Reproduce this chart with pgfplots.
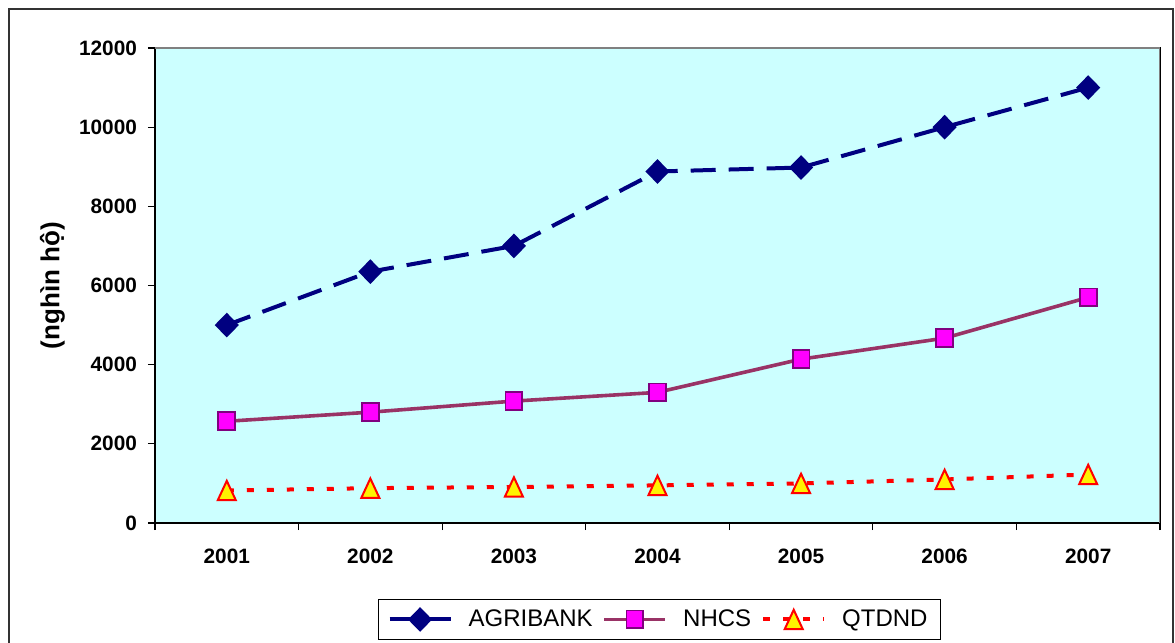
\documentclass[border=0pt]{standalone}
\usepackage{fontspec}
\setmainfont{Liberation Sans}
\usepackage{pgfplots}
\pgfplotsset{compat=1.18}

\definecolor{agriblue}{HTML}{000080}
\definecolor{nhcsline}{HTML}{993366}
\definecolor{nhcsfill}{HTML}{FF00FF}
\definecolor{nhcsedge}{HTML}{800080}
\definecolor{plotbg}{HTML}{CCFFFF}

\pgfplotsset{
  agri/.style={agriblue, line width=2pt, mark=diamond*, mark size=4.75pt,
    mark options={solid, fill=agriblue, xscale=1.3}},
  nhcs/.style={nhcsline, line width=1.8pt, mark=square*, mark size=4.2pt,
    mark options={solid, fill=nhcsfill, draw=nhcsedge, line width=0.9pt, yscale=1.06}},
  qtdnd/.style={red, line width=2pt, dash pattern=on 3.5pt off 6.5pt,
    mark=triangle*, mark size=5.2pt,
    mark options={solid, fill=yellow, draw=red, line width=1pt,
      yshift=-1.6pt, yscale=1.24}},
}

\begin{document}
\begin{tikzpicture}
\useasboundingbox (-77.5pt,-60pt) rectangle (510pt,261.5pt);
\begin{axis}[
  at={(0,0)}, anchor=south west,
  scale only axis, width=502.5pt, height=237.5pt,
  xmin=-0.5, xmax=6.5, ymin=0, ymax=12000,
  axis background/.style={fill=plotbg},
  axis line style={black, line width=0.6pt},
  tick align=outside, major tick length=3.5pt,
  tick style={black, line width=0.6pt},
  xtick pos=bottom, ytick pos=left,
  xtick={-0.5,0.5,...,6.5}, xticklabels={},
  extra x ticks={0,1,2,3,4,5,6},
  extra x tick labels={2001,2002,2003,2004,2005,2006,2007},
  extra x tick style={major tick length=0pt,
    xticklabel style={yshift=-9.5pt}},
  ytick={0,2000,...,12000},
  scaled y ticks=false,
  yticklabel style={/pgf/number format/1000 sep={}, xshift=-2pt},
  /pgf/number format/assume math mode=true,
  ticklabel style={font=\fontsize{10.4}{12}\selectfont\bfseries},
  ylabel={(nghìn hộ)},
  every axis y label/.style={at={(axis description cs:-0.102,0.5)},
    rotate=90, anchor=center, font=\fontsize{13}{15}\selectfont\bfseries},
  legend columns=-1,
  legend style={at={(0.2219,-0.16)}, anchor=north west, draw=black,
    line width=0.6pt, font=\fontsize{12}{14}\selectfont,
    inner xsep=4.5pt, inner ysep=3pt,
    nodes={inner sep=2pt},
    /tikz/every odd column/.append style={column sep=6pt},
    /tikz/every even column/.append style={column sep=3pt}},
  legend image code/.code={
    \draw[mark repeat=2, mark phase=2, #1]
      plot coordinates {(0pt,0pt) (15.25pt,0pt) (30.5pt,0pt)};},
]
% AGRIBANK
\addplot[agri, dash pattern=on 12.5pt off 6.5pt, forget plot]
  coordinates {(0,5000) (1,6350) (2,7000) (3,8880) (4,8980) (5,10000) (6,11000)};
% NHCS
\addplot[nhcs, forget plot]
  coordinates {(0,2570) (1,2800) (2,3080) (3,3300) (4,4140) (5,4670) (6,5700)};
% QTDND
\addplot[qtdnd, forget plot]
  coordinates {(0,820) (1,880) (2,910) (3,950) (4,1000) (5,1100) (6,1225)};
% legend: the AGRIBANK sample is drawn solid
\addlegendimage{agri}
\addlegendentry{AGRIBANK}
\addlegendimage{nhcs}
\addlegendentry{NHCS}
\addlegendimage{qtdnd}
\addlegendentry{QTDND}
% lighter border on the top and right of the plot area
\draw[gray, line width=1pt] (rel axis cs:0,1) -- (rel axis cs:1,1) -- (rel axis cs:1,0);
\end{axis}
% chart area frame
\draw[black!80, line width=0.6pt] (-73pt,-80pt) rectangle (509pt,257pt);
\end{tikzpicture}
\end{document}
